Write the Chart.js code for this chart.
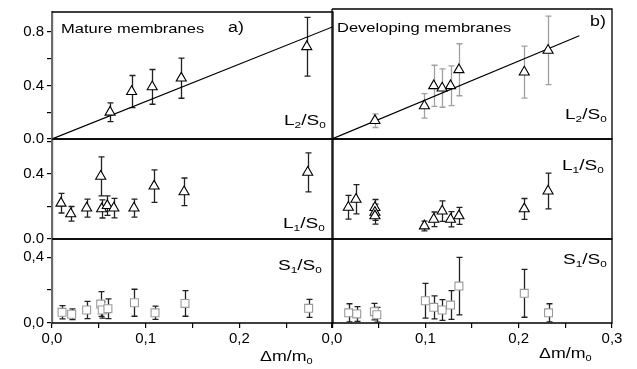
<!DOCTYPE html>
<html>
<head>
<meta charset="utf-8">
<script src="https://cdn.jsdelivr.net/npm/chart.js@4.4.0/dist/chart.umd.min.js"></script>
<style>
body { margin: 0; background: #fff; }
#wrap { position: relative; width: 637px; height: 369px; overflow: hidden; font-family: "Liberation Sans", Arial, sans-serif; }
canvas { position: absolute; left: 0; top: 0; }
.lbl { position: absolute; white-space: nowrap; color: #000; transform-origin: 0 0; transform: scaleX(1.27); line-height: 1; }
.lbl sub { font-size: 0.62em; vertical-align: -0.35em; line-height: 0; }
</style>
</head>
<body>
<div id="wrap">
  <canvas id="tl" width="637" height="369"></canvas>
  <canvas id="ml" width="637" height="369"></canvas>
  <canvas id="bl" width="637" height="369"></canvas>
  <canvas id="tr" width="637" height="369"></canvas>
  <canvas id="mr" width="637" height="369"></canvas>
  <canvas id="br" width="637" height="369"></canvas>

  <div class="lbl" style="left:61px;top:22.3px;font-size:13px">Mature membranes</div>
  <div class="lbl" style="left:228px;top:20.2px;font-size:14px">a)</div>
  <div class="lbl" style="left:337px;top:21.3px;font-size:13px">Developing membranes</div>
  <div class="lbl" style="left:590px;top:14.2px;font-size:14px">b)</div>
  <div class="lbl" style="left:284px;top:112px;font-size:15px">L<sub>2</sub>/S<sub>0</sub></div>
  <div class="lbl" style="left:565px;top:106px;font-size:15px">L<sub>2</sub>/S<sub>0</sub></div>
  <div class="lbl" style="left:283px;top:215px;font-size:15px">L<sub>1</sub>/S<sub>0</sub></div>
  <div class="lbl" style="left:562px;top:157px;font-size:15px">L<sub>1</sub>/S<sub>0</sub></div>
  <div class="lbl" style="left:278px;top:257px;font-size:15px">S<sub>1</sub>/S<sub>0</sub></div>
  <div class="lbl" style="left:563px;top:251px;font-size:15px">S<sub>1</sub>/S<sub>0</sub></div>
  <div class="lbl" style="left:260px;top:349px;font-size:14px">&Delta;m/m<sub>0</sub></div>
  <div class="lbl" style="left:539px;top:346px;font-size:14px">&Delta;m/m<sub>0</sub></div>
</div>
<script>
// ---- mature membranes (panel a) ----
let matureL2x = [0.062, 0.085, 0.107, 0.138, 0.272];
let matureL2y = [0.20, 0.355, 0.39, 0.455, 0.69];
let matureL2err = [0.07, 0.12, 0.13, 0.15, 0.22];
let matureFitX = [0, 0.30];
let matureFitY = [0, 0.84];

let matureL1x = [0.0096, 0.020, 0.037, 0.052, 0.053, 0.059, 0.066, 0.0875, 0.109, 0.141, 0.273];
let matureL1y = [0.22, 0.155, 0.19, 0.385, 0.185, 0.205, 0.19, 0.19, 0.325, 0.29, 0.41];
let matureL1err = [0.06, 0.045, 0.055, 0.12, 0.056, 0.06, 0.06, 0.055, 0.10, 0.085, 0.12];

let matureS1x = [0.0107, 0.021, 0.037, 0.052, 0.0536, 0.0597, 0.088, 0.110, 0.142, 0.274];
let matureS1y = [0.065, 0.053, 0.079, 0.115, 0.079, 0.087, 0.123, 0.062, 0.119, 0.089];
let matureS1err = [0.04, 0.033, 0.052, 0.075, 0.05, 0.06, 0.082, 0.04, 0.078, 0.055];

// ---- developing membranes (panel b) ----
let devL2x = [0.046, 0.099, 0.109, 0.118, 0.127, 0.136, 0.206, 0.2315];
let devL2y = [0.134, 0.242, 0.389, 0.372, 0.389, 0.506, 0.489, 0.648];
let devL2err = [0.05, 0.09, 0.15, 0.14, 0.145, 0.19, 0.19, 0.25];
let devFitX = [0, 0.265];
let devFitY = [0, 0.755];

let devL1x = [0.0175, 0.0257, 0.046, 0.046, 0.046, 0.099, 0.109, 0.118, 0.127, 0.136, 0.206, 0.2315];
let devL1y = [0.195, 0.244, 0.193, 0.164, 0.142, 0.08, 0.121, 0.172, 0.121, 0.142, 0.185, 0.295];
let devL1err = [0.073, 0.09, 0.05, 0.05, 0.05, 0.03, 0.045, 0.063, 0.047, 0.052, 0.064, 0.11];

let devS1x = [0.0179, 0.0265, 0.0454, 0.048, 0.100, 0.109, 0.118, 0.127, 0.136, 0.206, 0.232];
let devS1y = [0.062, 0.055, 0.069, 0.05, 0.135, 0.095, 0.079, 0.109, 0.224, 0.18, 0.062];
let devS1err = [0.055, 0.045, 0.05, 0.045, 0.105, 0.07, 0.063, 0.087, 0.175, 0.145, 0.055];

// axis ranges / tick steps
let xRange = [0, 0.3];
let xMajor = 0.1;
let topRange = [0, 0.95];
let midRange = [0, 0.615];
let botRange = [0, 0.51];
let yMajor = 0.4;

Chart.defaults.font.family = '"Liberation Sans", Arial, sans-serif';
Chart.defaults.font.size = 15;
Chart.defaults.color = '#000';

let pts = (xs, ys) => xs.map((x, i) => ({ x: x, y: ys[i] }));

let isMultiple = function (v, step) {
    let r = v / step;
    return Math.abs(r - Math.round(r)) < 1e-6;
};

let fmt = function (v, sep) {
    return v.toFixed(1).replace('.', sep);
};

// frame around each plot (top/right/bottom, left too where no y axis)
let framePlugin = {
    id: 'frame',
    beforeDatasetsDraw(chart, args, opts) {
        let a = chart.chartArea;
        let ctx = chart.ctx;
        ctx.save();
        ctx.strokeStyle = '#000';
        ctx.lineWidth = 1.3;
        ctx.beginPath();
        ctx.moveTo(a.left, a.top);
        ctx.lineTo(a.right, a.top);
        ctx.lineTo(a.right, a.bottom);
        ctx.lineTo(a.left, a.bottom);
        if (opts.leftSide) ctx.lineTo(a.left, a.top);
        ctx.stroke();
        ctx.restore();
    }
};

let errorPlugin = {
    id: 'errorBars',
    beforeDatasetsDraw(chart) {
        let ctx = chart.ctx;
        let xs = chart.scales.x, ys = chart.scales.y;
        chart.data.datasets.forEach(ds => {
            if (!ds.errors) return;
            ctx.save();
            ctx.strokeStyle = ds.errorColor;
            ctx.lineWidth = 1.3;
            ds.data.forEach((p, j) => {
                let px = Math.round(xs.getPixelForValue(p.x)) + 0.5;
                let top = ys.getPixelForValue(p.y + ds.errors[j]);
                let bot = ys.getPixelForValue(p.y - ds.errors[j]);
                ctx.beginPath();
                ctx.moveTo(px, top); ctx.lineTo(px, bot);
                ctx.moveTo(px - 3, top); ctx.lineTo(px + 3, top);
                ctx.moveTo(px - 3, bot); ctx.lineTo(px + 3, bot);
                ctx.stroke();
            });
            ctx.restore();
        });
    }
};

function makePanel(id, area, yRange, opts) {
    let yW = 45, xH = 24;
    let datasets = [{
        data: pts(opts.xs, opts.ys),
        errors: opts.err,
        errorColor: opts.errColor,
        pointStyle: opts.marker,
        pointRadius: opts.marker == 'triangle' ? 5.8 : 5.6,
        pointBorderWidth: 1.1,
        pointBorderColor: opts.markerColor,
        pointBackgroundColor: '#fff',
        showLine: false
    }];
    if (opts.fitX) {
        datasets.push({
            data: pts(opts.fitX, opts.fitY),
            showLine: true,
            borderColor: '#000',
            borderWidth: 1.2,
            pointRadius: 0
        });
    }
    return new Chart(document.getElementById(id), {
        type: 'scatter',
        data: { datasets: datasets },
        plugins: [framePlugin, errorPlugin],
        options: {
            responsive: false,
            animation: false,
            devicePixelRatio: 1,
            events: [],
            layout: {
                padding: {
                    left: opts.showY ? area[0] - yW : area[0],
                    top: area[1],
                    right: 637 - area[2],
                    bottom: opts.showX ? 369 - area[3] - xH : 369 - area[3]
                }
            },
            plugins: {
                legend: { display: false },
                tooltip: { enabled: false },
                frame: { leftSide: !opts.showY }
            },
            scales: {
                x: {
                    type: 'linear',
                    display: opts.showX,
                    min: xRange[0], max: xRange[1],
                    afterFit: s => { s.height = opts.showX ? xH : 0; },
                    grid: { drawOnChartArea: false, drawTicks: true, tickLength: 5, color: '#000', lineWidth: 1.2 },
                    border: { display: false },
                    ticks: {
                        stepSize: 0.05,
                        padding: 2,
                        maxRotation: 0,
                        autoSkip: false,
                        includeBounds: false,
                        callback: v => (isMultiple(v, xMajor) && v <= opts.lastX + 1e-6) ? fmt(v, ',') : ''
                    }
                },
                y: {
                    type: 'linear',
                    display: opts.showY,
                    min: yRange[0], max: yRange[1],
                    afterFit: s => { s.width = opts.showY ? yW : 0; },
                    grid: { drawOnChartArea: false, drawTicks: true, tickLength: 5, color: '#000', lineWidth: 1.2 },
                    border: { display: true, color: '#6b6b6b', width: 2.2 },
                    ticks: {
                        stepSize: 0.2,
                        padding: 3,
                        autoSkip: false,
                        includeBounds: false,
                        callback: v => isMultiple(v, yMajor) ? fmt(v, opts.ySep) : ''
                    }
                }
            }
        }
    });
}

// left column: mature
makePanel('tl', [52, 9, 333, 139], topRange, {
    xs: matureL2x, ys: matureL2y, err: matureL2err, errColor: '#222',
    marker: 'triangle', markerColor: '#000', fitX: matureFitX, fitY: matureFitY,
    showY: true, showX: false, ySep: '.', lastX: 0.2
});
makePanel('ml', [52, 139, 333, 239], midRange, {
    xs: matureL1x, ys: matureL1y, err: matureL1err, errColor: '#222',
    marker: 'triangle', markerColor: '#000',
    showY: true, showX: false, ySep: '.', lastX: 0.2
});
makePanel('bl', [52, 239, 333, 323], botRange, {
    xs: matureS1x, ys: matureS1y, err: matureS1err, errColor: '#222',
    marker: 'rect', markerColor: '#9a9a9a',
    showY: true, showX: true, ySep: ',', lastX: 0.2
});

// right column: developing
makePanel('tr', [332, 9, 612, 139], topRange, {
    xs: devL2x, ys: devL2y, err: devL2err, errColor: '#a0a0a0',
    marker: 'triangle', markerColor: '#000', fitX: devFitX, fitY: devFitY,
    showY: false, showX: false, ySep: '.', lastX: 0.3
});
makePanel('mr', [332, 139, 612, 239], midRange, {
    xs: devL1x, ys: devL1y, err: devL1err, errColor: '#222',
    marker: 'triangle', markerColor: '#000',
    showY: false, showX: false, ySep: '.', lastX: 0.3
});
makePanel('br', [332, 239, 612, 323], botRange, {
    xs: devS1x, ys: devS1y, err: devS1err, errColor: '#222',
    marker: 'rect', markerColor: '#9a9a9a',
    showY: false, showX: true, ySep: ',', lastX: 0.3
});
</script>
</body>
</html>
